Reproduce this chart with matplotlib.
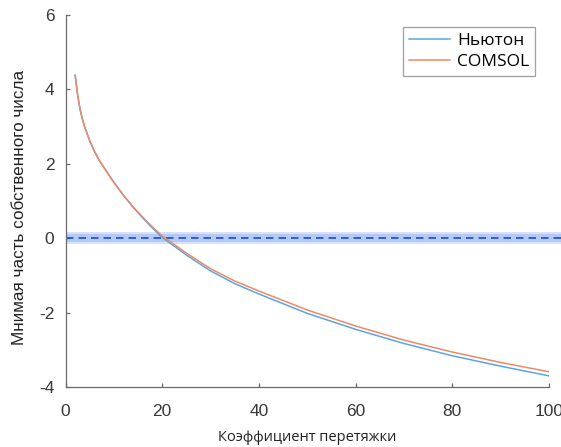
import matplotlib
matplotlib.use("Agg")
import matplotlib.pyplot as plt

# Data
drag_coef = [2, 2.5, 3, 3.5, 4, 5, 6, 7, 8, 9, 10, 12, 14, 16, 18, 20, 25, 30, 35, 40,
             50, 60, 70, 80, 90, 100]
newton = [4.38, 3.86, 3.47, 3.20, 2.98, 2.62, 2.33, 2.09, 1.89, 1.695, 1.50, 1.15, 0.83,
          0.54, 0.27, 0.02, -0.45, -0.88, -1.22, -1.50, -2.02, -2.45, -2.83, -3.16,
          -3.44, -3.70]
comsol = [4.38, 3.86, 3.47, 3.20, 2.98, 2.62, 2.33, 2.09, 1.89, 1.695, 1.50, 1.15, 0.84,
          0.56, 0.30, 0.06, -0.40, -0.82, -1.15, -1.42, -1.93, -2.36, -2.74, -3.06,
          -3.34, -3.59]
series_labels = ["Ньютон", "COMSOL"]
xticks = [0, 20, 40, 60, 80, 100]
yticks = [-4, -2, 0, 2, 4, 6]
xlabel = "Коэффициент перетяжки"
ylabel = "Мнимая часть собственного числа"

plt.rcParams['axes.unicode_minus'] = False

fig = plt.figure(figsize=(5.61, 4.47), dpi=100)
ax = fig.add_axes([0.1168, 0.1342, 0.8618, 0.8322])

# highlighted zero band
ax.axhspan(-0.16, 0.16, xmin=0, xmax=1.03, clip_on=False, color='#d6e2fa', lw=0, zorder=1)
ax.axhspan(-0.10, 0.10, xmin=0, xmax=1.03, clip_on=False, color='#b4c9f4', lw=0, zorder=1)
ax.axhline(0, xmin=0, xmax=1.03, clip_on=False, color='#1f4cc8', lw=1.2,
           dashes=(4.5, 3), zorder=2)

ax.plot(drag_coef, newton, color='#5aa5e0', lw=1.1, label=series_labels[0], zorder=3)
ax.plot(drag_coef, comsol, color='#ec8a66', lw=1.1, label=series_labels[1], zorder=3)

ax.set_xlim(0, 100)
ax.set_ylim(-4, 6)
ax.set_xticks(xticks)
ax.set_yticks(yticks)

for s in ['top', 'right']:
    ax.spines[s].set_visible(False)
for s in ['left', 'bottom']:
    ax.spines[s].set_color('#6a6a6a')
    ax.spines[s].set_linewidth(0.9)
ax.tick_params(direction='in', length=3, width=0.9, color='#6a6a6a',
               labelsize=12.5, labelcolor='#383838')
ax.tick_params(axis='x', pad=12)
ax.tick_params(axis='y', pad=8)
for lab in ax.get_xticklabels() + ax.get_yticklabels():
    lab.set_family('Liberation Sans')

ax.set_xlabel(xlabel, fontsize=10.5, family='Open Sans', color='#222222', labelpad=8)
ax.set_ylabel(ylabel, fontsize=12.3, family='Liberation Sans', color='#222222')
ax.yaxis.set_label_coords(-0.080, 0.484)

leg = ax.legend(loc='upper right', bbox_to_anchor=(0.971, 0.968),
                prop={'family': 'Open Sans', 'size': 12.5}, frameon=True, fancybox=False,
                edgecolor='#888888', handlelength=2.35, handletextpad=0.4,
                borderpad=0.35, labelspacing=0.25, borderaxespad=0.0)
leg.get_frame().set_linewidth(0.9)

fig.savefig("out.png", dpi=100)
